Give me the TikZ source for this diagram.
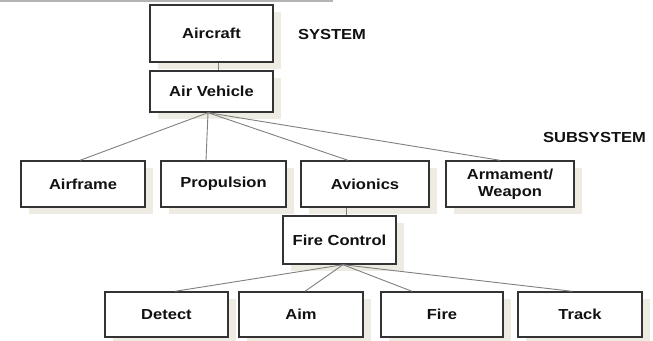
\documentclass[tikz,border=0pt]{standalone}
\usepackage{fontspec}
\setmainfont{Liberation Sans}[FakeStretch=1.14]
\usetikzlibrary{shadows,calc}
\definecolor{boxline}{HTML}{333333}
\definecolor{connline}{HTML}{808080}
\definecolor{shade}{HTML}{EDEBE2}
\definecolor{rule}{HTML}{B4B4B4}
\definecolor{ink}{HTML}{111111}
\tikzset{
  box/.style={draw=boxline, line width=1.4pt, fill=white, inner sep=0pt,
    align=center, text=ink,
    font=\fontsize{14.5}{16.5}\selectfont\bfseries,
    drop shadow={shadow xshift=8pt, shadow yshift=-7pt, fill=shade, opacity=1}},
  level/.style={text=ink, font=\fontsize{14.5}{16.5}\selectfont\bfseries, inner sep=0pt},
  conn/.style={draw=connline, line width=0.9pt}
}
\begin{document}
\begin{tikzpicture}[x=1pt,y=-1pt]
\useasboundingbox (0,0) rectangle (653,340);
\fill[white] (0,0) rectangle (653,340);
% thin rule along the top edge
\draw[rule, line width=1.2pt] (0,1) -- (333,1);

% system level
\node[box, minimum width=123, minimum height=57] (ac) at (211.5,33.5) {Aircraft};
\node[box, minimum width=123, minimum height=41] (av) at (211.5,91.5) {Air Vehicle};
\node[level] (sys) at (332,35) {SYSTEM};

% subsystems
\node[box, minimum width=124, minimum height=46] (af) at (83,184) {Airframe};
\node[box, minimum width=125, minimum height=46] (pr) at (223.5,184) {Propulsion};
\node[box, minimum width=128, minimum height=46] (avi) at (365,184) {Avionics};
\node[box, minimum width=128, minimum height=46] (arm) at (510,184) {Armament/\\Weapon};
\node[level] (sub) at (594.5,138) {SUBSYSTEM};

% fire control and its functions
\node[box, minimum width=113, minimum height=48] (fc) at (339.5,240) {Fire Control};
\node[box, minimum width=123, minimum height=45] (det) at (166.5,314.5) {Detect};
\node[box, minimum width=124, minimum height=45] (aim) at (301,314.5) {Aim};
\node[box, minimum width=122, minimum height=45] (fir) at (442,314.5) {Fire};
\node[box, minimum width=124, minimum height=45] (trk) at (580,314.5) {Track};

% connectors
\draw[conn] ([xshift=6.5]ac.south) -- ([xshift=6.5]av.north);
\draw[conn] ([xshift=-3.5]av.south) -- ([xshift=-3]af.north);
\draw[conn] ([xshift=-3.5]av.south) -- ([xshift=-17.5]pr.north);
\draw[conn] ([xshift=-3.5]av.south) -- ([xshift=-17]avi.north);
\draw[conn] ([xshift=-3.5]av.south) -- ([xshift=-10]arm.north);
\draw[conn] ([xshift=-19]avi.south) -- ([xshift=6.5]fc.north);
\draw[conn] ([xshift=3.5]fc.south) -- ([xshift=8.5]det.north);
\draw[conn] ([xshift=3.5]fc.south) -- ([xshift=4]aim.north);
\draw[conn] ([xshift=3.5]fc.south) -- ([xshift=-30]fir.north);
\draw[conn] ([xshift=3.5]fc.south) -- ([xshift=-8]trk.north);
\end{tikzpicture}
\end{document}
